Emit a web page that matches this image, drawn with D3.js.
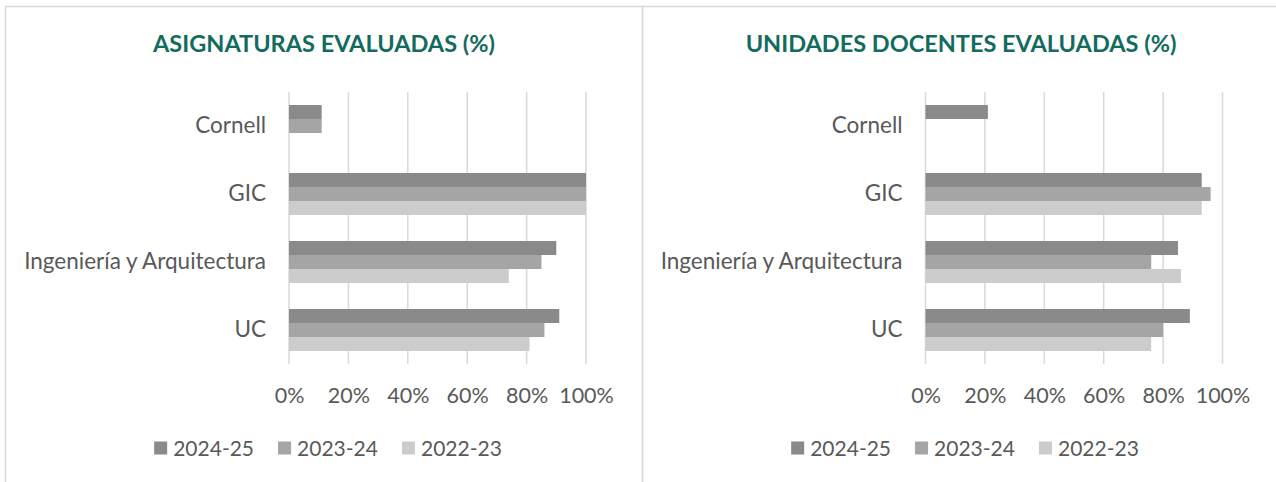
<!DOCTYPE html>
<html lang="es">
<head>
    <meta charset="UTF-8">
    <title>Evaluación</title>
    <style>
        body { margin: 0; background: #fff; }
        svg { display: block; }
    </style>
    <script src="https://d3js.org/d3.v7.min.js" charset="utf-8"></script>
</head>
<body>
    <script>
        const categories = ['Cornell', 'GIC', 'Ingeniería y Arquitectura', 'UC']
        const series = ['2024-25', '2023-24', '2022-23']
        const asignaturas = {
            '2024-25': [11, 100, 90, 91],
            '2023-24': [11, 100, 85, 86],
            '2022-23': [0, 100, 74, 81]
        }
        const unidades = {
            '2024-25': [21, 93, 85, 89],
            '2023-24': [0, 96, 76, 80],
            '2022-23': [0, 93, 86, 76]
        }
        const ticks = [0, 20, 40, 60, 80, 100]
        const colors = ['#8a8a8a', '#a5a5a5', '#cccccc']

        const width = 1276
        const height = 482
        const font = 'Lato, "Open Sans", sans-serif'
        const textColor = '#595959'

        let svg = d3.select('body').append('svg').attr('width', width).attr('height', height)

        const panels = [
            { title: 'ASIGNATURAS EVALUADAS (%)', data: asignaturas, x: 5.5, w: 637, plotLeft: 289, plotRight: 586, cx: 324 },
            { title: 'UNIDADES DOCENTES EVALUADAS (%)', data: unidades, x: 642.5, w: 700, plotLeft: 925.5, plotRight: 1222.5, cx: 961 }
        ]

        const plotTop = 92
        const plotBottom = 364

        panels.forEach(p => {
            // marco
            svg.append('rect')
                .attr('x', p.x).attr('y', 6.5)
                .attr('width', p.w).attr('height', 520)
                .attr('fill', 'none').attr('stroke', '#d9d9d9').attr('stroke-width', 1.5)

            svg.append('text')
                .attr('x', p.cx).attr('y', 52)
                .attr('text-anchor', 'middle')
                .attr('font-family', font).attr('font-weight', 'bold').attr('font-size', 23.5)
                .attr('fill', '#136b5e')
                .text(p.title)

            let xscale = d3.scaleLinear().domain([0, 100]).range([p.plotLeft, p.plotRight])
            let yscale = d3.scaleBand().domain(categories).range([plotTop, plotBottom])
                .paddingInner(26 / 68).paddingOuter(13 / 68)
            let yinner = d3.scaleBand().domain(series).range([0, yscale.bandwidth()])

            // líneas de cuadrícula
            svg.append('g').selectAll('line')
                .data(ticks)
                .enter()
                .append('line')
                .attr('x1', d => xscale(d)).attr('x2', d => xscale(d))
                .attr('y1', plotTop).attr('y2', plotBottom)
                .attr('stroke', '#d9d9d9').attr('stroke-width', 1.5)

            // barras
            series.forEach((s, si) => {
                svg.append('g').selectAll('rect')
                    .data(p.data[s])
                    .enter()
                    .append('rect')
                    .attr('x', xscale(0))
                    .attr('y', (d, i) => yscale(categories[i]) + yinner(s))
                    .attr('width', d => xscale(d) - xscale(0))
                    .attr('height', yinner.bandwidth())
                    .attr('fill', colors[si])
            })

            // etiquetas del eje x
            let xAxis = d3.axisBottom(xscale).tickValues(ticks).tickSize(0).tickPadding(0)
                .tickFormat(d => d + '%')
            let gx = svg.append('g').attr('transform', `translate(0, 403)`).call(xAxis)
            gx.select('.domain').remove()
            gx.selectAll('text').attr('dy', 0)
                .attr('font-family', font).attr('font-size', 21.5).attr('fill', textColor)

            // etiquetas de categorías
            let yAxis = d3.axisLeft(yscale).tickSize(0).tickPadding(23)
            let gy = svg.append('g').attr('transform', `translate(${p.plotLeft}, 0)`).call(yAxis)
            gy.select('.domain').remove()
            gy.selectAll('text')
                .attr('font-family', font).attr('font-size', 22.5).attr('fill', textColor)

            // leyenda
            let leg = svg.append('g')
            let xpos = 0
            series.forEach((s, si) => {
                let item = leg.append('g').attr('transform', `translate(${xpos}, 0)`)
                item.append('rect').attr('x', 0).attr('y', -6.5).attr('width', 13).attr('height', 13).attr('fill', colors[si])
                let t = item.append('text').attr('x', 19).attr('y', 7.5)
                    .attr('font-family', font).attr('font-size', 21).attr('fill', textColor)
                    .text(s)
                xpos += 19 + t.node().getComputedTextLength() + 24
            })
            let legW = xpos - 24
            leg.attr('transform', `translate(${p.cx + 4 - legW / 2}, 448)`)
        })
    </script>
</body>
</html>
